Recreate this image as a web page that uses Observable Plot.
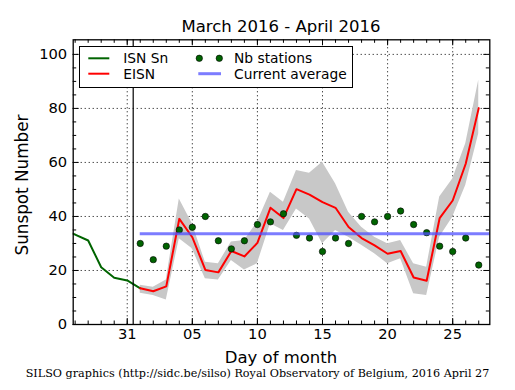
<!DOCTYPE html>
<html>
<head>
<meta charset="utf-8">
<script src="https://cdn.jsdelivr.net/npm/d3@7"></script>
<script src="https://cdn.jsdelivr.net/npm/@observablehq/plot@0.6"></script>
<style>
  html, body { margin: 0; padding: 0; background: #fff; }
  #wrap { position: relative; width: 515px; height: 390px; overflow: hidden; font-family: "DejaVu Sans", sans-serif; color: #000; }
  #wrap svg.plot { position: absolute; left: 0; top: 0; }
  .txt { position: absolute; white-space: nowrap; line-height: normal; }
  #title { left: 72.7px; width: 416.6px; text-align: center; font-size: 16.5px; top: 17px; }
  #xlabel { left: 72.7px; width: 416.6px; text-align: center; font-size: 16.5px; top: 347.5px; }
  #ylabel { left: -128px; width: 300px; text-align: center; font-size: 16.8px; top: 175px; transform: rotate(-90deg); transform-origin: 150px 10px; }
  #caption { left: 0; width: 515px; text-align: center; font-family: "DejaVu Serif", serif; font-size: 11.2px; top: 367.3px; }
  #legend { position: absolute; left: 79px; top: 46px; }
</style>
</head>
<body>
<div id="wrap"></div>
<script>
// ---------- data ----------
const title = "March 2016 - April 2016";
const yLabel = "Sunspot Number";
const xLabel = "Day of month";
const caption = "SILSO graphics (http://sidc.be/silso) Royal Observatory of Belgium, 2016 April 27";

const isnDates = ["2016-03-26", "2016-03-27", "2016-03-28", "2016-03-29", "2016-03-30", "2016-03-31", "2016-04-01"];
const isnValues = [35.0, 33.3, 31.1, 21.2, 17.3, 16.3, 13.4];

const eisnDates = ["2016-04-01","2016-04-02","2016-04-03","2016-04-04","2016-04-05","2016-04-06","2016-04-07","2016-04-08","2016-04-09","2016-04-10","2016-04-11","2016-04-12","2016-04-13","2016-04-14","2016-04-15","2016-04-16","2016-04-17","2016-04-18","2016-04-19","2016-04-20","2016-04-21","2016-04-22","2016-04-23","2016-04-24","2016-04-25","2016-04-26","2016-04-27"];
const eisnValues = [13.4, 12.3, 14.1, 39.1, 32.3, 20.2, 19.3, 27.2, 25.2, 30.2, 43.2, 39.4, 50.1, 48.1, 45.3, 43.2, 36.1, 32.0, 29.3, 26.2, 27.2, 17.4, 16.2, 39.4, 45.9, 59.5, 80.1];
const eisnUpper  = [14.5, 13.8, 16.5, 46.5, 37.3, 23.0, 22.5, 30.5, 31.1, 37.9, 49.0, 45.3, 57.0, 56.0, 60.1, 52.1, 41.6, 36.0, 32.3, 29.9, 31.1, 22.5, 21.2, 47.2, 53.9, 66.9, 90.4];
const eisnLower  = [11.6, 10.7,  9.1, 31.7, 28.0, 16.9, 16.5, 23.7, 20.2, 22.5, 37.3, 34.8, 42.8, 39.1, 29.9, 34.8, 32.3, 29.3, 26.2, 22.5, 24.3, 11.4, 10.7, 32.3, 39.7, 51.5, 70.6];
const nbStations = [30, 24, 29, 35, 36, 40, 31, 28, 31, 37, 38, 41, 33, 32, 27, 32, 30, 40, 38, 40, 42, 37, 34, 29, 27, 32, 22];

const currentAverage = 33.6;
const averageStart = "2016-04-01";
const averageEnd = "2016-04-28";
const markerDate = "2016-03-31T11:00Z";

const xDomain = ["2016-03-26T20:24Z", "2016-04-27T20:24Z"];
const xTickDates = ["2016-03-31", "2016-04-05", "2016-04-10", "2016-04-15", "2016-04-20", "2016-04-25"];
const xTickLabels = ["31", "05", "10", "15", "20", "25"];
const yDomain = [0, 105.4];
const yTicks = [0, 20, 40, 60, 80, 100];
const yTickLabels = ["0", "20", "40", "60", "80", "100"];

const legendLabels = ["ISN Sn", "EISN", "Nb stations", "Current average"];

// ---------- build ----------
const D = s => new Date(s.length === 10 ? s + "T00:00Z" : s);
const isn = isnDates.map((d, i) => ({date: D(d), value: isnValues[i]}));
const eisn = eisnDates.map((d, i) => ({date: D(d), value: eisnValues[i], lo: eisnLower[i], hi: eisnUpper[i], nb: nbStations[i]}));
const xTicks = xTickDates.map(D);
const xLabelMap = new Map(xTicks.map((d, i) => [+d, xTickLabels[i]]));
const yLabelMap = new Map(yTicks.map((v, i) => [v, yTickLabels[i]]));

const W = 515, H = 365;
const mL = 72.7, mR = 515 - 489.3, mT = 39.3, mB = H - 324;
const fw = W - mL - mR, fh = H - mT - mB;

// minor ticks: every day on x, every 5 on y
const x0 = D(xDomain[0]), x1 = D(xDomain[1]);
const minorX = d3.utcDay.range(d3.utcDay.ceil(x0), x1);
const minorY = d3.range(5, 105, 5).filter(v => v % 20 !== 0);
const majorYall = yTicks;

const grid = {stroke: "#000", strokeOpacity: 1, strokeWidth: 1, strokeDasharray: "1,3"};
const tk = {stroke: "#000", strokeWidth: 1};
const minLen = 3.5, majLen = 6;

const plot = Plot.plot({
  width: W, height: H,
  marginLeft: mL, marginRight: mR, marginTop: mT, marginBottom: mB,
  style: {fontFamily: "DejaVu Sans, sans-serif", fontSize: "14.7px", color: "#000", background: "transparent"},
  x: {type: "utc", domain: [x0, x1], ticks: xTicks, tickFormat: d => xLabelMap.get(+d), tickSize: 0, tickPadding: 4, label: null},
  y: {domain: yDomain, ticks: yTicks, tickFormat: v => yLabelMap.get(v), tickSize: 0, tickPadding: 6, label: null},
  marks: [
    Plot.ruleX(xTicks, {x: d => d, ...grid}),
    Plot.ruleY(majorYall, {y: d => d, ...grid}),
    Plot.areaY(eisn, {x: "date", y1: "lo", y2: "hi", fill: "#c8c8c8", fillOpacity: 1, curve: "linear"}),
    Plot.line(isn, {x: "date", y: "value", stroke: "#006400", strokeWidth: 2, clip: true}),
    Plot.line(eisn, {x: "date", y: "value", stroke: "#ff0000", strokeWidth: 2}),
    Plot.dot(eisn, {x: "date", y: "nb", r: 3.2, fill: "#006400", stroke: "#000", strokeWidth: 0.6}),
    Plot.ruleY([currentAverage], {x1: D(averageStart), x2: D(averageEnd), stroke: "#5050ff", strokeOpacity: 0.75, strokeWidth: 3, clip: true}),
    Plot.ruleX([D(markerDate)], {x: d => d, stroke: "#000", strokeWidth: 1.2}),
    Plot.tickX(minorX, {x: d => d, insetTop: fh - minLen, ...tk}),
    Plot.tickX(minorX, {x: d => d, insetBottom: fh - minLen, ...tk}),
    Plot.tickX(xTicks, {x: d => d, insetTop: fh - majLen, ...tk}),
    Plot.tickX(xTicks, {x: d => d, insetBottom: fh - majLen, ...tk}),
    Plot.tickY(minorY, {y: d => d, insetRight: fw - minLen, ...tk}),
    Plot.tickY(minorY, {y: d => d, insetLeft: fw - minLen, ...tk}),
    Plot.tickY(majorYall, {y: d => d, insetRight: fw - majLen, ...tk}),
    Plot.tickY(majorYall, {y: d => d, insetLeft: fw - majLen, ...tk}),
    Plot.frame({stroke: "#000", strokeWidth: 1.3})
  ]
});
plot.classList.add("plot");

const wrap = document.getElementById("wrap");
wrap.appendChild(plot);

function addText(id, text) {
  const d = document.createElement("div");
  d.id = id; d.className = "txt"; d.textContent = text;
  wrap.appendChild(d);
}
addText("title", title);
addText("xlabel", xLabel);
addText("ylabel", yLabel);
addText("caption", caption);

// legend (inside the plot frame, upper left)
const ns = "http://www.w3.org/2000/svg";
const lg = document.createElementNS(ns, "svg");
lg.setAttribute("id", "legend");
lg.setAttribute("width", 275); lg.setAttribute("height", 43);
lg.style.fontFamily = "DejaVu Sans, sans-serif";
function el(tag, attrs, text) {
  const e = document.createElementNS(ns, tag);
  for (const k in attrs) e.setAttribute(k, attrs[k]);
  if (text != null) e.textContent = text;
  lg.appendChild(e); return e;
}
el("rect", {x: 0.5, y: 0.5, width: 273, height: 41, fill: "#fff", stroke: "#000", "stroke-width": 1});
el("line", {x1: 9.3, x2: 30.3, y1: 12.3, y2: 12.3, stroke: "#006400", "stroke-width": 2});
el("line", {x1: 9.3, x2: 30.3, y1: 27.7, y2: 27.7, stroke: "#ff0000", "stroke-width": 2});
el("circle", {cx: 120.3, cy: 12.3, r: 3.2, fill: "#006400", stroke: "#000", "stroke-width": 0.6});
el("circle", {cx: 140.3, cy: 12.3, r: 3.2, fill: "#006400", stroke: "#000", "stroke-width": 0.6});
el("line", {x1: 119.3, x2: 142, y1: 27.7, y2: 27.7, stroke: "#5050ff", "stroke-opacity": 0.75, "stroke-width": 3});
el("text", {x: 44.3, y: 17.3, "font-size": "13.8px"}, legendLabels[0]);
el("text", {x: 44.3, y: 33, "font-size": "13.8px"}, legendLabels[1]);
el("text", {x: 155, y: 17.3, "font-size": "13.8px"}, legendLabels[2]);
el("text", {x: 155, y: 33, "font-size": "13.8px"}, legendLabels[3]);
wrap.appendChild(lg);
</script>
</body>
</html>
